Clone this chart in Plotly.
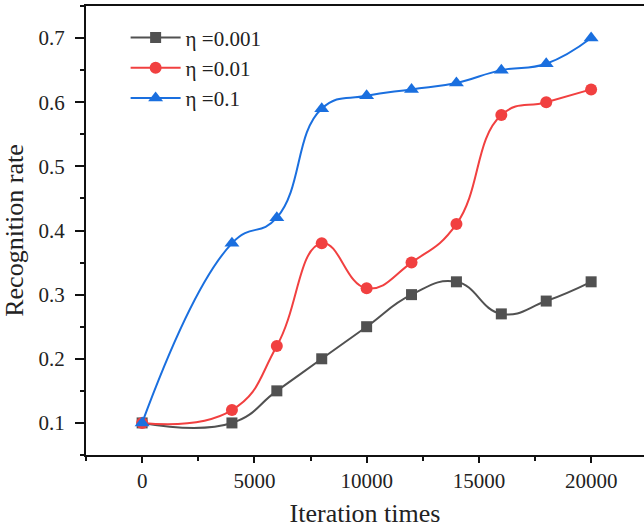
import plotly.graph_objects as go

# Iteration counts on the x axis
iterations = [0, 4000, 6000, 8000, 10000, 12000, 14000, 16000, 18000, 20000]

# Recognition rate for each learning rate
rate_eta_0001 = [0.10, 0.10, 0.15, 0.20, 0.25, 0.30, 0.32, 0.27, 0.29, 0.32]
rate_eta_001 = [0.10, 0.12, 0.22, 0.38, 0.31, 0.35, 0.41, 0.58, 0.60, 0.62]
rate_eta_01 = [0.10, 0.38, 0.42, 0.59, 0.61, 0.62, 0.63, 0.65, 0.66, 0.70]

series_names = ["η =0.001", "η =0.01", "η =0.1"]
x_ticks = [0, 5000, 10000, 15000, 20000]
y_ticks = [0.1, 0.2, 0.3, 0.4, 0.5, 0.6, 0.7]

FONT = "Liberation Serif, DejaVu Serif, serif"
TEXT = "#222222"
AXIS = "#111111"

styles = [
    dict(color="#515151", symbol="square", size=11),
    dict(color="#F14040", symbol="circle", size=12),
    dict(color="#1A6FDF", symbol="triangle-up", size=13),
]

fig = go.Figure()
for name, values, st in zip(series_names, [rate_eta_0001, rate_eta_001, rate_eta_01], styles):
    fig.add_trace(
        go.Scatter(
            x=iterations,
            y=values,
            name=name,
            mode="lines+markers",
            line=dict(color=st["color"], width=2, shape="spline", smoothing=1.3),
            marker=dict(color=st["color"], symbol=st["symbol"], size=st["size"]),
        )
    )

fig.update_layout(
    width=644,
    height=529,
    margin=dict(l=86, r=0, t=6, b=74),
    paper_bgcolor="white",
    plot_bgcolor="white",
    font=dict(family=FONT, size=21, color=TEXT),
    showlegend=True,
    legend=dict(
        x=0.071,
        y=0.975,
        xanchor="left",
        yanchor="top",
        bgcolor="rgba(0,0,0,0)",
        font=dict(family=FONT, size=21, color=TEXT),
        itemwidth=50,
        tracegroupgap=0,
    ),
)

fig.update_xaxes(
    range=[-2500, 22355],
    tickmode="array",
    tickvals=x_ticks,
    ticktext=[str(v) for v in x_ticks],
    ticks="outside",
    ticklen=6,
    tickwidth=2,
    tickcolor=AXIS,
    showline=True,
    linewidth=2,
    linecolor=AXIS,
    mirror=True,
    showgrid=False,
    zeroline=False,
    minor=dict(ticks="outside", ticklen=4, tickwidth=2, tickcolor=AXIS,
               tick0=-2500, dtick=2500, showgrid=False),
    tickfont=dict(family=FONT, size=21, color=TEXT),
    title=dict(text="Iteration times", font=dict(family=FONT, size=26, color=TEXT), standoff=12),
)

fig.update_yaxes(
    range=[0.05, 0.75],
    tickmode="array",
    tickvals=y_ticks,
    ticktext=[f"{v:.1f}" for v in y_ticks],
    ticks="outside",
    ticklen=9,
    tickwidth=2,
    tickcolor=AXIS,
    showline=True,
    linewidth=2,
    linecolor=AXIS,
    mirror=False,
    showgrid=False,
    zeroline=False,
    minor=dict(ticks="outside", ticklen=4, tickwidth=2, tickcolor=AXIS,
               tick0=0.05, dtick=0.05, showgrid=False),
    tickfont=dict(family=FONT, size=21, color=TEXT),
    ticklabelstandoff=6,
    title=dict(text="Recognition rate", font=dict(family=FONT, size=26, color=TEXT), standoff=10),
)

fig.write_html("out.html")
